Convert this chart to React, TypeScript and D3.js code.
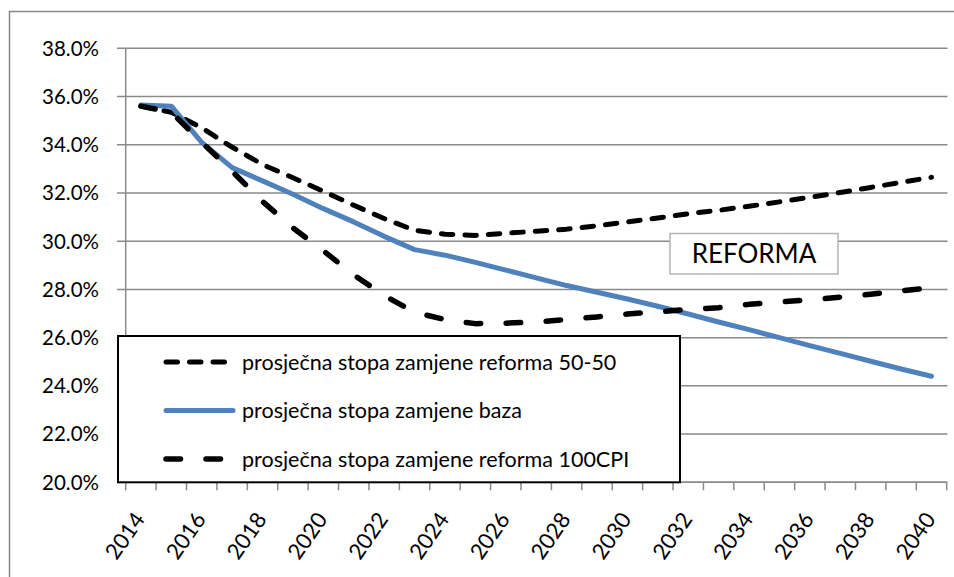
import React, { useEffect, useRef } from "react";
import * as d3 from "d3";

const settings = {
  width: 954,
  height: 577,
  left: 125.7,
  right: 946.7,
  top: 48.3,
  bottom: 482.3,
};

const FONT = "Lato, 'Noto Sans', sans-serif";

const years: string[] = [
  "2014", "2015", "2016", "2017", "2018", "2019", "2020", "2021", "2022",
  "2023", "2024", "2025", "2026", "2027", "2028", "2029", "2030", "2031",
  "2032", "2033", "2034", "2035", "2036", "2037", "2038", "2039", "2040",
];

const yTicks: number[] = [20, 22, 24, 26, 28, 30, 32, 34, 36, 38];

const reforma5050: number[] = [
  35.6, 35.35, 34.7, 33.9, 33.18, 32.63, 32.07, 31.49, 30.94, 30.45, 30.29,
  30.24, 30.33, 30.41, 30.5, 30.64, 30.8, 30.96, 31.14, 31.28, 31.45, 31.63,
  31.82, 32.02, 32.23, 32.44, 32.65,
];

const baza: number[] = [
  35.65, 35.6, 34.1, 33.05, 32.5, 31.95, 31.35, 30.8, 30.2, 29.65, 29.42,
  29.12, 28.8, 28.48, 28.16, 27.88, 27.6, 27.3, 26.98, 26.65, 26.33, 26.0,
  25.67, 25.35, 25.02, 24.7, 24.4,
];

const reforma100CPI: number[] = [
  35.6, 35.35, 34.1, 32.9, 31.65, 30.55, 29.6, 28.6, 27.75, 27.05, 26.75,
  26.58, 26.6, 26.65, 26.75, 26.86, 26.98, 27.07, 27.17, 27.24, 27.38, 27.48,
  27.57, 27.68, 27.8, 27.94, 28.07,
];

const series = [
  { name: "prosječna stopa zamjene reforma 50-50", values: reforma5050, color: "#000", width: 5, dash: "11.5 12" },
  { name: "prosječna stopa zamjene baza", values: baza, color: "#4F81BD", width: 5, dash: null },
  { name: "prosječna stopa zamjene reforma 100CPI", values: reforma100CPI, color: "#000", width: 5.5, dash: "14.5 25.5" },
];

export default function App() {
  const svgRef = useRef(null);
  useEffect(() => {
    const svg = d3.select(svgRef.current);
    svg.selectAll("*").remove();

    const x = d3
      .scaleBand()
      .domain(years)
      .range([settings.left, settings.right])
      .padding(0);
    const cx = (d: string) => (x(d) || 0) + x.bandwidth() / 2;

    const y = d3
      .scaleLinear()
      .domain([20, 38])
      .range([settings.bottom, settings.top]);

    // outer chart frame (cut off on the right and bottom)
    svg
      .append("rect")
      .attr("x", 9.5)
      .attr("y", 11.5)
      .attr("width", 1000)
      .attr("height", 700)
      .attr("fill", "#fff")
      .attr("stroke", "#868686")
      .attr("stroke-width", 1.5);

    // gridlines
    svg
      .append("g")
      .selectAll("line")
      .data(yTicks)
      .join("line")
      .attr("x1", 117)
      .attr("x2", 947.5)
      .attr("y1", (d) => y(d))
      .attr("y2", (d) => y(d))
      .attr("stroke", "#8a8a8a")
      .attr("stroke-width", 1.5);

    // y axis
    svg
      .append("line")
      .attr("x1", settings.left)
      .attr("x2", settings.left)
      .attr("y1", settings.top)
      .attr("y2", settings.bottom)
      .attr("stroke", "#8a8a8a")
      .attr("stroke-width", 1.5);

    svg
      .append("g")
      .selectAll("text")
      .data(yTicks)
      .join("text")
      .attr("x", 99)
      .attr("y", (d) => y(d))
      .attr("dy", "0.36em")
      .attr("text-anchor", "end")
      .attr("font-family", FONT)
      .attr("font-size", 20.5)
      .attr("fill", "#000")
      .text((d) => d3.format(".1f")(d) + "%");

    // x axis
    svg
      .append("line")
      .attr("x1", settings.left)
      .attr("x2", settings.right)
      .attr("y1", settings.bottom)
      .attr("y2", settings.bottom)
      .attr("stroke", "#8a8a8a")
      .attr("stroke-width", 1.5);

    const bounds = years.map((d) => x(d) || 0).concat([settings.right]);
    svg
      .append("g")
      .selectAll("line")
      .data(bounds)
      .join("line")
      .attr("x1", (d) => d)
      .attr("x2", (d) => d)
      .attr("y1", settings.bottom)
      .attr("y2", settings.bottom + 8)
      .attr("stroke", "#8a8a8a")
      .attr("stroke-width", 1.5);

    svg
      .append("g")
      .selectAll("text")
      .data(years.filter((d, i) => i % 2 === 0))
      .join("text")
      .attr("transform", (d) => `translate(${cx(d) + 5},${settings.bottom + 37}) rotate(-55)`)
      .attr("text-anchor", "end")
      .attr("font-family", FONT)
      .attr("font-size", 22)
      .attr("fill", "#000")
      .text((d) => d);

    // lines
    const line = d3
      .line<number>()
      .x((d, i) => cx(years[i]))
      .y((d) => y(d));

    svg
      .append("g")
      .selectAll("path")
      .data(series)
      .join("path")
      .attr("d", (s) => line(s.values))
      .attr("fill", "none")
      .attr("stroke", (s) => s.color)
      .attr("stroke-width", (s) => s.width)
      .attr("stroke-dasharray", (s) => s.dash)
      .attr("stroke-linecap", "round")
      .attr("stroke-linejoin", "round");

    // REFORMA label
    const label = svg.append("g");
    label
      .append("rect")
      .attr("x", 670)
      .attr("y", 233.5)
      .attr("width", 168)
      .attr("height", 40.5)
      .attr("fill", "#fff")
      .attr("stroke", "#b4b4b4")
      .attr("stroke-width", 1.5);
    label
      .append("text")
      .attr("x", 754)
      .attr("y", 254)
      .attr("dy", "0.36em")
      .attr("text-anchor", "middle")
      .attr("font-family", FONT)
      .attr("font-size", 26)
      .attr("fill", "#000")
      .text("REFORMA");

    // legend
    const legend = svg.append("g");
    legend
      .append("rect")
      .attr("x", 118)
      .attr("y", 336)
      .attr("width", 562)
      .attr("height", 146.3)
      .attr("fill", "#fff")
      .attr("stroke", "#000")
      .attr("stroke-width", 2);

    const rows = legend
      .selectAll("g")
      .data(series)
      .join("g")
      .attr("transform", (s, i) => `translate(0,${362 + i * 48.5})`);
    rows
      .append("line")
      .attr("x1", 166)
      .attr("x2", 233)
      .attr("stroke", (s) => s.color)
      .attr("stroke-width", (s) => s.width)
      .attr("stroke-dasharray", (s) => s.dash)
      .attr("stroke-linecap", "round");
    rows
      .append("text")
      .attr("x", 242)
      .attr("dy", "0.36em")
      .attr("font-family", FONT)
      .attr("font-size", 21.5)
      .attr("fill", "#000")
      .text((s) => s.name);
  }, []);

  return (
    <svg
      ref={svgRef}
      width={settings.width}
      height={settings.height}
      style={{ position: "absolute", left: 0, top: 0, background: "#fff" }}
    ></svg>
  );
}
